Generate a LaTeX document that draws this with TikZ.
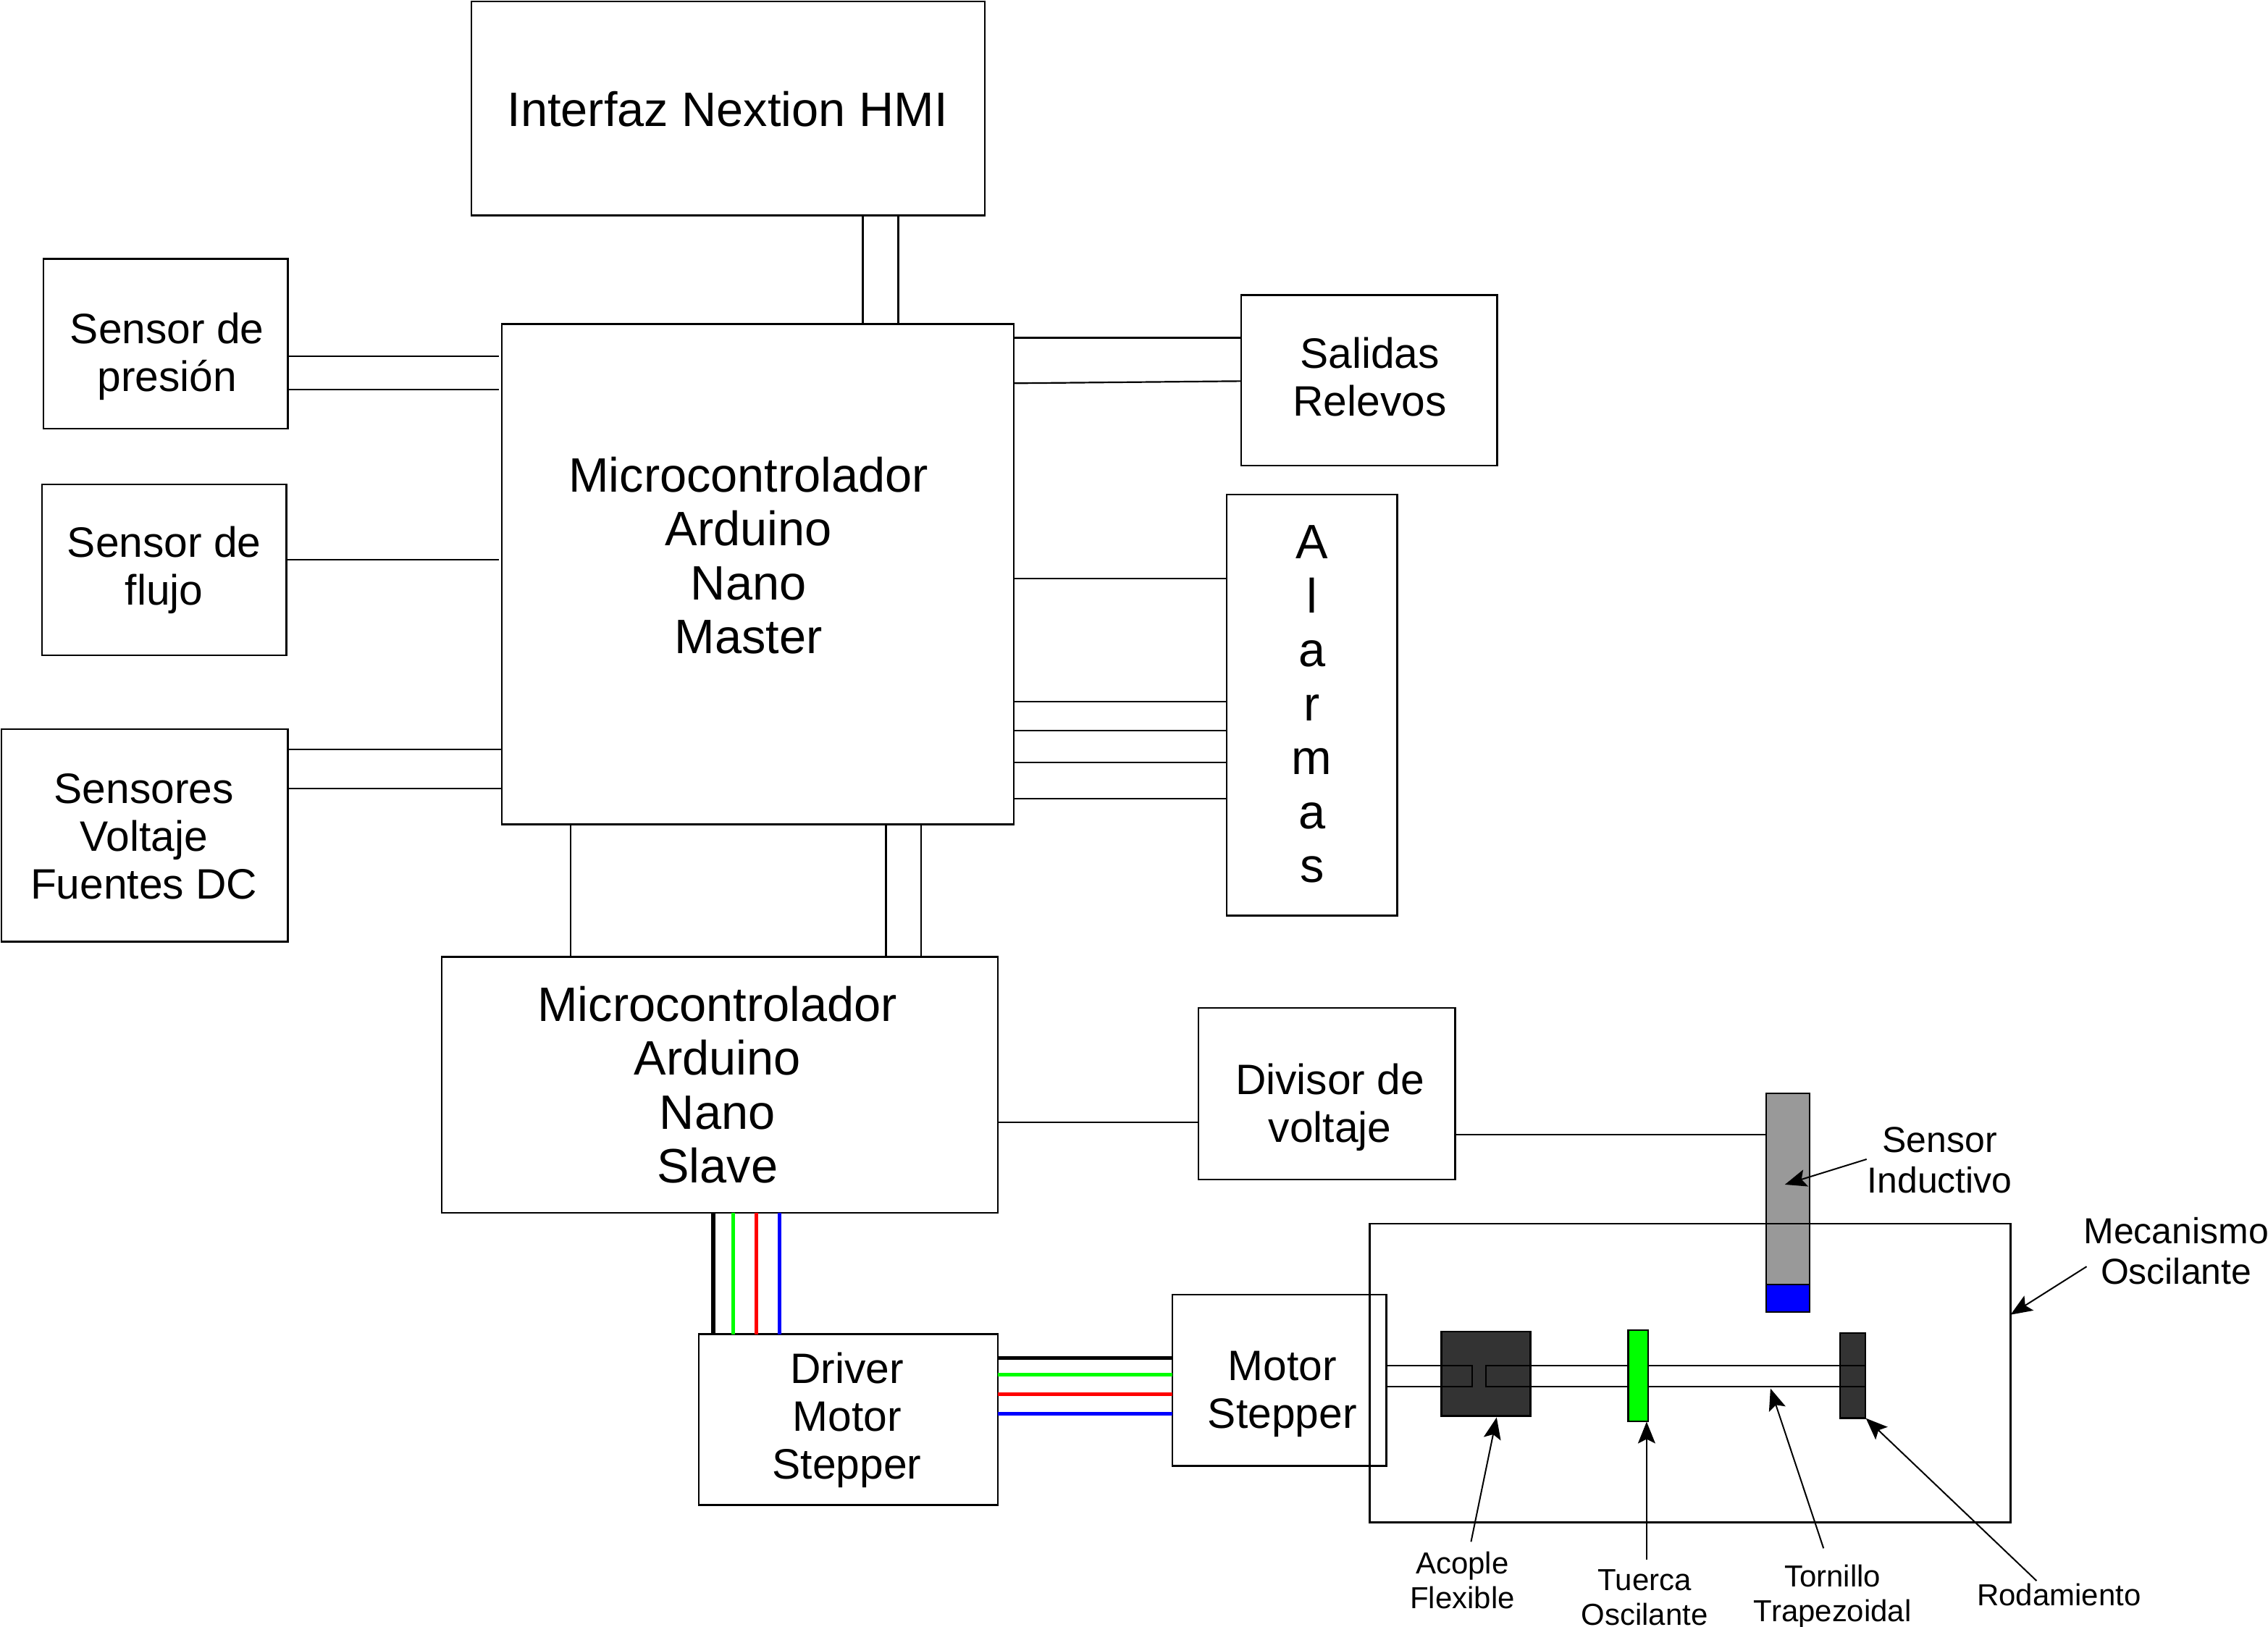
\documentclass[tikz,border=0pt]{standalone}
\usepackage{fontspec}
\setmainfont{Liberation Sans}
\usetikzlibrary{arrows.meta}
\definecolor{darkpart}{HTML}{333333}
\definecolor{graypart}{HTML}{999999}
\definecolor{wgreen}{HTML}{00FF00}
\definecolor{wblue}{HTML}{0000FF}
\definecolor{wred}{HTML}{FF0000}
\newcommand{\mybox}[6][]{\node[boxst,#1,anchor=north west,minimum width=#5pt-#3pt,minimum height=#6pt-#4pt] (#2) at (#3,#4) {};}
\tikzset{
  boxst/.style={draw=black,line width=1.2pt,inner sep=0pt,outer sep=0pt},
  conn/.style={draw=black,line width=1.1pt},
  wire/.style={line width=2.7pt},
  big/.style={inner sep=0pt,align=center,font=\fontsize{33.4}{37.3}\selectfont},
  mid/.style={inner sep=0pt,align=center,font=\fontsize{29.4}{33}\selectfont},
  sml/.style={inner sep=0pt,align=center,font=\fontsize{25}{28}\selectfont},
  tiny/.style={inner sep=0pt,align=center,font=\fontsize{21}{24}\selectfont},
  arr/.style={draw=black,line width=1pt,-{Stealth[length=15pt,width=12pt,inset=3pt]}},
}
\begin{document}
\begin{tikzpicture}[x=1pt,y=-1pt]
\useasboundingbox (0,0) rectangle (1568,1124.9);
% parts under the mechanism frame
\mybox[fill=graypart]{ind}{1221}{756}{1251}{888}
\mybox[fill=wblue]{indtip}{1221}{888}{1251}{907}
\mybox[fill=darkpart]{coupler}{996.6}{920.6}{1058}{979}
\mybox[fill=darkpart]{bearing}{1272}{921.6}{1289.5}{980.4}
% blocks
\mybox{hmi}{326}{1}{681}{149}
\mybox{master}{347}{224}{701}{570}
\mybox{presion}{30}{179}{199}{296.5}
\mybox{flujo}{29}{335}{198}{453}
\mybox{fuentes}{1}{504}{199}{651}
\mybox{salidas}{858}{204}{1035}{322}
\mybox{alarmas}{848}{342}{966}{633}
\mybox{slave}{305.5}{661.5}{690}{838.5}
\mybox{divisor}{828.5}{697}{1006}{815.5}
\mybox{driver}{483}{922.5}{690}{1040.5}
\mybox{motor}{810.5}{895}{958.5}{1013.5}
\mybox{meca}{947}{846}{1390}{1052.5}
% shafts
\coordinate (ms1) at (1017.6,944);
\coordinate (ms2) at (1017.6,958.6);
\coordinate (sc1) at (1027.4,944);
\coordinate (sc2) at (1027.4,958.6);
\draw[conn] (motor.east |- ms1) -- (ms1) -- (ms2) -- (motor.east |- ms2);
\draw[conn] (bearing.east |- sc1) -- (sc1) -- (sc2) -- (bearing.east |- sc2);
\mybox[fill=wgreen]{nut}{1125.7}{919.6}{1139.4}{982.6}
% connectors
\draw[conn] (hmi.south -| 596.5,0) -- (master.north -| 596.5,0);
\draw[conn] (hmi.south -| 621,0) -- (master.north -| 621,0);
\draw[conn] (presion.east |- 0,246.5) -- ([xshift=-2pt]master.west |- 0,246.5);
\draw[conn] (presion.east |- 0,269.5) -- ([xshift=-2pt]master.west |- 0,269.5);
\draw[conn] (flujo.east |- 0,387) -- ([xshift=-2pt]master.west |- 0,387);
\draw[conn] (fuentes.east |- 0,518) -- (master.west |- 0,518);
\draw[conn] (fuentes.east |- 0,545) -- (master.west |- 0,545);
\draw[conn] (master.east |- 0,233.5) -- (salidas.west |- 0,233.5);
\draw[conn] (master.east |- 0,265) -- (salidas.west |- 0,263.5);
\draw[conn] (master.east |- 0,400) -- (alarmas.west |- 0,400);
\draw[conn] (master.east |- 0,485) -- (alarmas.west |- 0,485);
\draw[conn] (master.east |- 0,505) -- (alarmas.west |- 0,505);
\draw[conn] (master.east |- 0,527) -- (alarmas.west |- 0,527);
\draw[conn] (master.east |- 0,552) -- (alarmas.west |- 0,552);
\draw[conn] (master.south -| 394.5,0) -- (slave.north -| 394.5,0);
\draw[conn] (master.south -| 612.5,0) -- (slave.north -| 612.5,0);
\draw[conn] (master.south -| 637,0) -- (slave.north -| 637,0);
\draw[conn] (slave.east |- 0,776) -- (divisor.west |- 0,776);
\draw[conn] (divisor.east |- 0,784.4) -- (ind.west |- 0,784.4);
% coloured wires
\draw[wire,black,line width=3pt] (slave.south -| 493,0) -- (driver.north -| 493,0);
\draw[wire,wgreen] (slave.south -| 507,0) -- (driver.north -| 507,0);
\draw[wire,wred] (slave.south -| 523,0) -- (driver.north -| 523,0);
\draw[wire,wblue] (slave.south -| 539,0) -- (driver.north -| 539,0);
\draw[wire,black] (driver.east |- 0,939) -- (motor.west |- 0,939);
\draw[wire,wgreen] (driver.east |- 0,950.5) -- (motor.west |- 0,950.5);
\draw[wire,wred] (driver.east |- 0,964) -- (motor.west |- 0,964);
\draw[wire,wblue] (driver.east |- 0,977.5) -- (motor.west |- 0,977.5);
% texts
\node[big] (thmi) at (503,75.5) {Interfaz Nextion HMI};
\node[big] (tmaster) at (517.5,384) {Microcontrolador\\Arduino\\Nano\\Master};
\node[big] (tslave) at (496,750) {Microcontrolador\\Arduino\\Nano\\Slave};
\node[big] (talarmas) at (907,487) {A\\l\\a\\r\\m\\a\\s};
\node[mid] (tpresion) at (115.5,246.5) {Sensor de\\presión};
\node[mid] (tflujo) at (113.5,394) {Sensor de\\flujo};
\node[mid] (tfuentes) at (99.5,578.5) {Sensores\\Voltaje\\Fuentes DC};
\node[mid] (tsalidas) at (947,260.5) {Salidas\\Relevos};
\node[mid] (tdivisor) at (919.5,765.5) {Divisor de\\voltaje};
\node[mid] (tdriver) at (585.5,982) {Driver\\Motor\\Stepper};
\node[mid] (tmotor) at (886.5,964) {Motor\\Stepper};
\node[sml] (tind) at (1341,802) {Sensor\\Inductivo};
\node[sml] (tmeca) at (1504.5,865) {Mecanismo\\Oscilante};
\node[tiny] (tacople) at (1011,1092.5) {Acople\\Flexible};
\node[tiny] (ttuerca) at (1137,1104.4) {Tuerca\\Oscilante};
\node[tiny] (ttornillo) at (1267,1103.5) {Tornillo\\Trapezoidal};
\node[tiny] (trod) at (1423.5,1102.5) {Rodamiento};
% callouts
\coordinate (a1) at (1290.5,801.5); \coordinate (b1) at (1234,819);
\coordinate (a2) at (1442.6,875.7); \coordinate (b2) at (1390,909);
\coordinate (a3) at (1017,1066);    \coordinate (b3) at (1034.7,980);
\coordinate (a4) at (1138.4,1078.6);\coordinate (b4) at (1138.4,983);
\coordinate (a5) at (1260.7,1070.5);\coordinate (b5) at (1224,960);
\coordinate (a6) at (1408,1093);    \coordinate (b6) at (1290,980.6);
\draw[arr] (a1) -- (b1);
\draw[arr] (a2) -- (b2);
\draw[arr] (a3) -- (b3);
\draw[arr] (a4) -- (b4);
\draw[arr] (a5) -- (b5);
\draw[arr] (a6) -- (b6);
\end{tikzpicture}
\end{document}
